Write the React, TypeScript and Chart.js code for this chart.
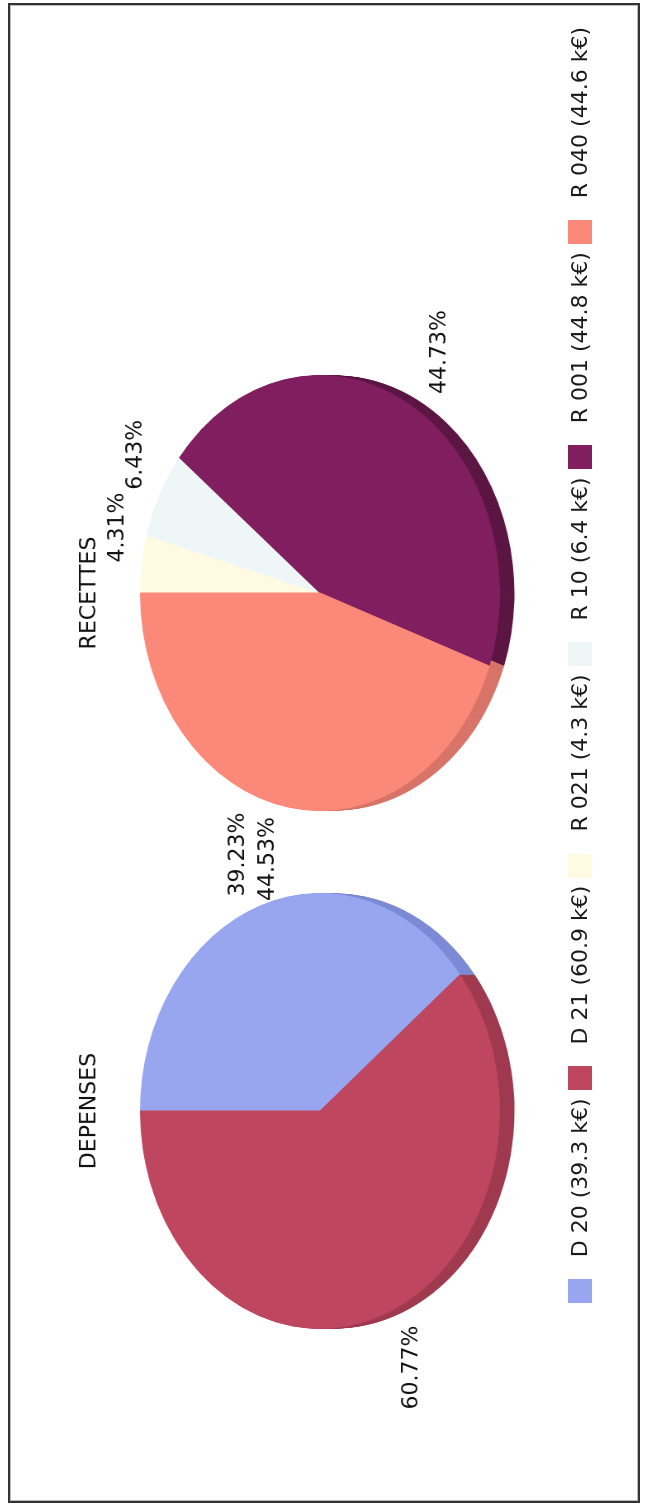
import React, { useEffect, useRef } from "react";
import { Chart, registerables } from "chart.js";
Chart.register(...registerables);

// ---- data ----
const depensesLabels = ["D 20", "D 21"];
const depensesValues = [39.3, 60.9];
const depensesPercents = ["39.23%", "60.77%"];
const depensesColors = ["#98a5ef", "#be465f"];
const depensesSideColors = ["#7c8ad6", "#9f3a4f"];

const recettesLabels = ["R 021", "R 10", "R 001", "R 040"];
const recettesValues = [4.3, 6.4, 44.8, 44.6];
const recettesPercents = ["4.31%", "6.43%", "44.73%", "44.53%"];
const recettesColors = ["#fffbe2", "#eef6f8", "#801e5f", "#fa897a"];
const recettesSideColors = ["#e2dcc2", "#cfd9dc", "#5c1644", "#d87468"];

const pieTitles = ["DEPENSES", "RECETTES"];
const unit = "k€";

// ---- geometry (unrotated frame, 1508 x 645) ----
const W_U = 1508;
const H_U = 645;
const SQUASH = 180 / 218;
const DEPTH = 15;
const CANVAS_W = 700;
const CANVAS_H = 640;
const PIE_CY = 320;
const TITLE_Y = 90;
const FONT = '22px "DejaVu Sans"';
const LABEL_GAP_X = 10;
const LABEL_GAP_Y = 3;
const LABEL_OFF_UP = 21;
const LABEL_OFF_DOWN = 31;

function makePlugin(title: string, percents: string[], sides: string[]) {
  return {
    id: "pie3d",
    beforeDatasetsDraw(chart: any) {
      const meta = chart.getDatasetMeta(0);
      const ctx = chart.ctx;
      const d = Math.round(DEPTH / SQUASH);
      meta.data.forEach((arc: any, i: number) => {
        const p = arc.getProps(["x", "y", "startAngle", "endAngle", "outerRadius"], true);
        ctx.save();
        ctx.fillStyle = sides[i];
        for (let k = d; k >= 1; k--) {
          ctx.beginPath();
          ctx.moveTo(p.x, p.y + k);
          ctx.arc(p.x, p.y + k, p.outerRadius, p.startAngle, p.endAngle);
          ctx.closePath();
          ctx.fill();
        }
        ctx.restore();
      });
    },
    afterDraw(chart: any) {
      const meta = chart.getDatasetMeta(0);
      const ctx = chart.ctx;
      ctx.save();
      ctx.font = FONT;
      ctx.fillStyle = "#111";
      ctx.textBaseline = "middle";
      let cx = 0;
      let cy = 0;
      meta.data.forEach((arc: any, i: number) => {
        const p = arc.getProps(["x", "y", "startAngle", "endAngle", "outerRadius"], true);
        cx = p.x;
        cy = p.y;
        const mid = (p.startAngle + p.endAngle) / 2;
        const ux = Math.cos(mid);
        const uy = Math.sin(mid);
        const lx = (p.outerRadius + LABEL_GAP_X) * ux;
        const ly = (p.outerRadius * SQUASH + LABEL_GAP_Y) * uy + (uy < 0 ? -LABEL_OFF_UP : LABEL_OFF_DOWN);
        ctx.save();
        ctx.textAlign = ux >= 0 ? "left" : "right";
        ctx.translate(p.x + lx, p.y + ly / SQUASH);
        ctx.scale(1, 1 / SQUASH);
        ctx.fillText(percents[i], 0, 0);
        ctx.restore();
      });
      ctx.save();
      ctx.textAlign = "center";
      ctx.translate(cx, cy + (TITLE_Y - PIE_CY) / SQUASH);
      ctx.scale(1, 1 / SQUASH);
      ctx.fillText(title, 0, 0);
      ctx.restore();
      ctx.restore();
    },
  };
}

function Pie(props: {
  left: number;
  labels: string[];
  values: number[];
  colors: string[];
  sides: string[];
  percents: string[];
  title: string;
}) {
  const ref = useRef<HTMLCanvasElement>(null);
  useEffect(() => {
    const canvas = ref.current!;
    const padX = (CANVAS_W - 436) / 2;
    const padY = (CANVAS_H - 436) / 2;
    const chart = new Chart(canvas, {
      type: "pie",
      data: {
        labels: props.labels,
        datasets: [
          {
            data: props.values,
            backgroundColor: props.colors,
            borderColor: props.colors,
            borderWidth: 1,
          },
        ],
      },
      options: {
        responsive: false,
        animation: false,
        events: [],
        layout: { padding: { left: padX, right: padX, top: padY, bottom: padY } },
        plugins: {
          legend: { display: false },
          tooltip: { enabled: false },
          title: { display: false },
        },
      } as any,
      plugins: [makePlugin(props.title, props.percents, props.sides)],
    });
    return () => chart.destroy();
  }, []);
  return (
    <canvas
      ref={ref}
      width={CANVAS_W}
      height={CANVAS_H}
      style={{
        position: "absolute",
        left: props.left - CANVAS_W / 2,
        top: PIE_CY - CANVAS_H / 2,
        width: CANVAS_W,
        height: CANVAS_H,
        transform: `scaleY(${SQUASH})`,
        transformOrigin: "50% 50%",
      }}
    />
  );
}

export default function App() {
  useEffect(() => {
    document.body.style.margin = "0";
    document.body.style.background = "#fff";
  }, []);

  const legendItems = [
    ...depensesLabels.map((l, i) => ({ label: `${l} (${depensesValues[i]} ${unit})`, color: depensesColors[i] })),
    ...recettesLabels.map((l, i) => ({ label: `${l} (${recettesValues[i]} ${unit})`, color: recettesColors[i] })),
  ];

  return (
    <div style={{ position: "relative", width: 645, height: 1508, overflow: "hidden", background: "#fff" }}>
      <div
        style={{
          position: "absolute",
          left: 0,
          top: 0,
          width: W_U,
          height: H_U,
          transformOrigin: "0 0",
          transform: `translate(0px, ${W_U}px) rotate(-90deg)`,
          fontFamily: '"DejaVu Sans", sans-serif',
        }}
      >
        <div
          style={{
            position: "absolute",
            left: 5,
            top: 8,
            width: 1500,
            height: 632,
            boxSizing: "border-box",
            border: "2px solid #333",
            boxShadow: "inset 0 0 0 1px #bbb",
          }}
        />
        <Pie
          left={397}
          labels={depensesLabels}
          values={depensesValues}
          colors={depensesColors}
          sides={depensesSideColors}
          percents={depensesPercents}
          title={pieTitles[0]}
        />
        <Pie
          left={915}
          labels={recettesLabels}
          values={recettesValues}
          colors={recettesColors}
          sides={recettesSideColors}
          percents={recettesPercents}
          title={pieTitles[1]}
        />
        <div
          style={{
            position: "absolute",
            right: 27,
            top: 568,
            height: 24,
            display: "flex",
            alignItems: "center",
            gap: 8,
            fontSize: 22,
            color: "#1a1a1a",
            whiteSpace: "nowrap",
          }}
        >
          {legendItems.map((it, i) => (
            <div key={i} style={{ display: "flex", alignItems: "center" }}>
              <div style={{ width: 24, height: 24, background: it.color, marginRight: 22 }} />
              <span style={{ lineHeight: "24px" }}>{it.label}</span>
            </div>
          ))}
        </div>
      </div>
    </div>
  );
}
